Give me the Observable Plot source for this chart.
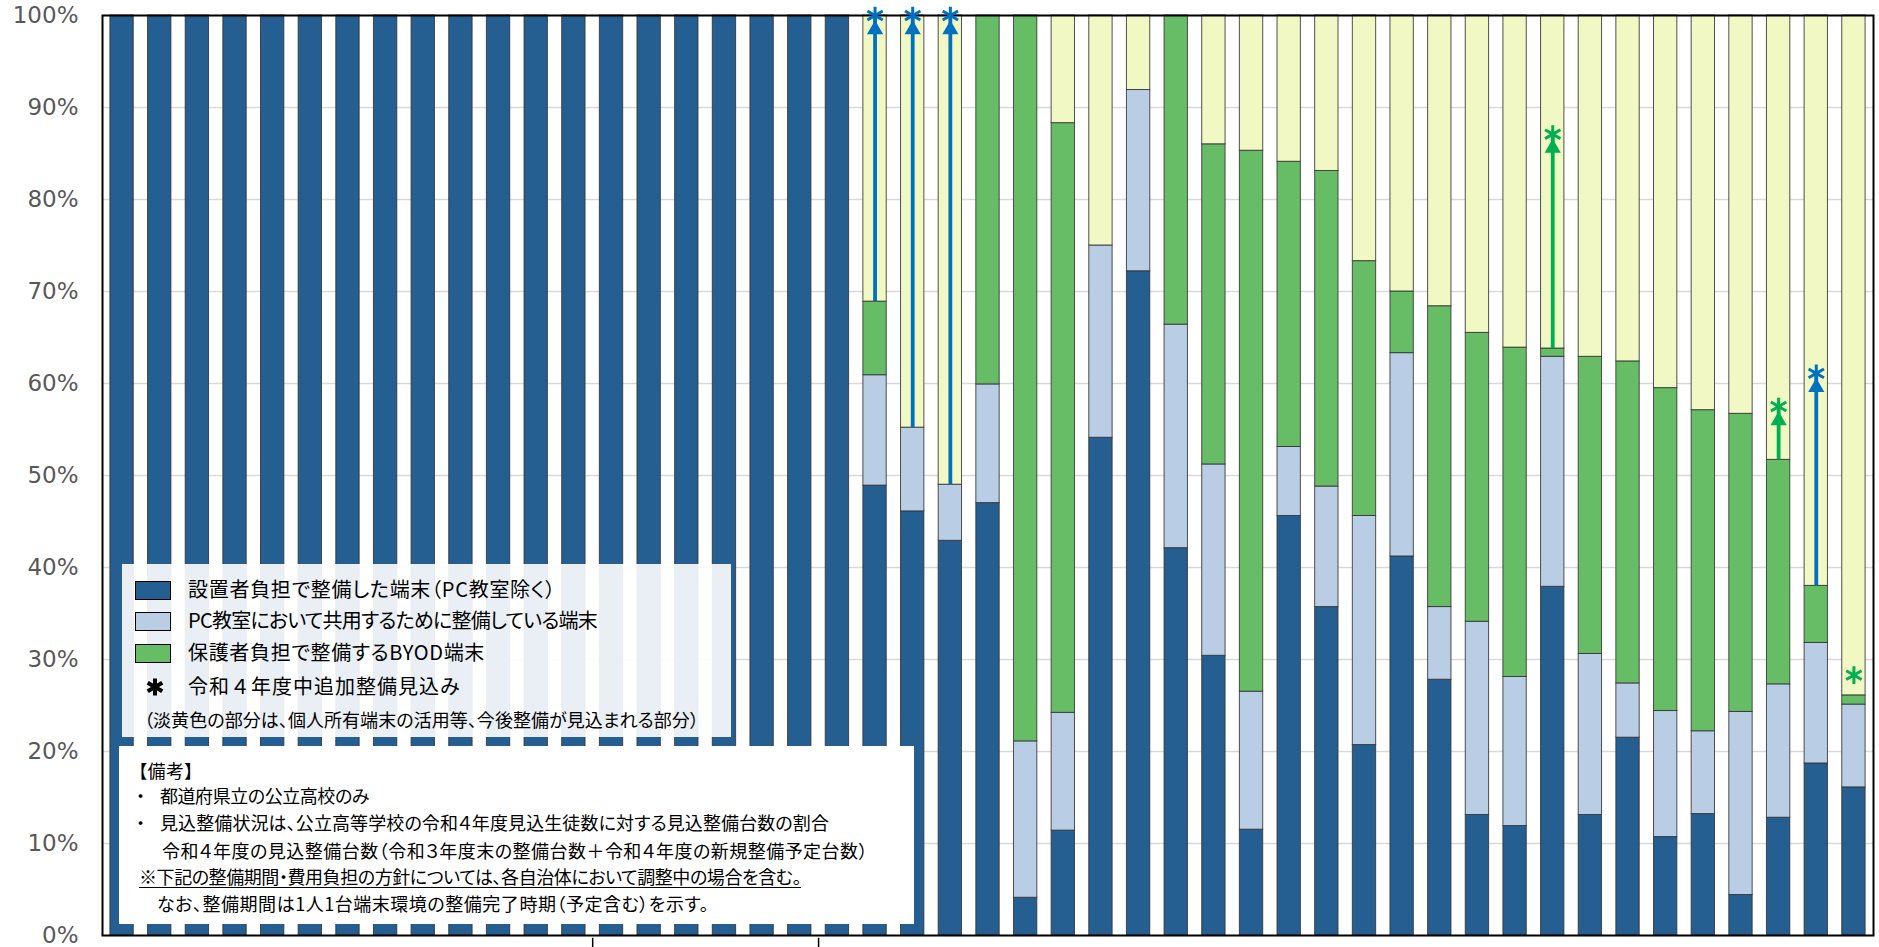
<!DOCTYPE html>
<html>
<head>
<meta charset="utf-8">
<script src="https://cdn.jsdelivr.net/npm/d3@7"></script>
<script src="https://cdn.jsdelivr.net/npm/@observablehq/plot@0.6"></script>
<style>
  html, body { margin: 0; padding: 0; background: #fff; }
  #wrap { position: relative; width: 1879px; height: 947px; overflow: hidden; }
  #wrap svg { display: block; }
  .box { position: absolute; }
  .t { position: absolute; white-space: nowrap; font-family: "Noto Sans CJK JP", sans-serif;
       font-feature-settings: "palt"; color: #000; line-height: 1; }
  .sw { position: absolute; box-sizing: border-box; border: 1.5px solid #000; }
</style>
</head>
<body>
<div id="wrap"></div>
<script>
// ---- data (percent of expected enrolment, per prefecture) ----
const categories = ["01","02","03","04","05","06","07","08","09","10","11","12","13","14","15","16",
  "17","18","19","20","21","22","23","24","25","26","27","28","29","30","31","32","33","34","35","36",
  "37","38","39","40","41","42","43","44","45","46","47"];

// 設置者負担で整備した端末（PC教室除く）
const founderDevices = [100,100,100,100,100,100,100,100,100,100,100,100,100,100,100,100,100,100,100,100,
  48.9,46.1,42.9,47.0,4.1,11.4,54.1,72.2,42.1,30.4,11.5,45.6,35.7,20.7,41.2,27.8,13.1,11.9,37.9,13.1,
  21.5,10.7,13.2,4.4,12.8,18.7,16.1];
// PC教室において共用するために整備している端末
const pcRoomDevices = [0,0,0,0,0,0,0,0,0,0,0,0,0,0,0,0,0,0,0,0,
  12.0,9.1,6.1,12.9,17.0,12.8,20.9,19.7,24.3,20.8,15.0,7.5,13.1,24.9,22.1,7.9,21.0,16.2,25.0,17.5,
  5.9,13.7,9.0,19.9,14.5,13.1,9.0];
// 保護者負担で整備するBYOD端末
const byodDevices = [0,0,0,0,0,0,0,0,0,0,0,0,0,0,0,0,0,0,0,0,
  8.0,0,0,40.1,78.9,64.1,0,0,33.6,34.8,58.8,31.0,34.3,27.7,6.7,32.7,31.4,35.8,0.9,32.3,
  35.0,35.1,34.9,32.4,24.4,6.2,1.0];

const seriesNames = ["設置者負担で整備した端末（PC教室除く）", "PC教室において共用するために整備している端末",
  "保護者負担で整備するBYOD端末", "今後整備が見込まれる部分"];
const seriesColors = ["#255E91", "#B9CDE5", "#66BD66", "#F1F8C4"];

// 令和４年度中追加整備見込み（arrows / asterisks）
const extraBars  = ["21","22","23","39","45","46","47"];
const extraFrom  = [68.9, 55.2, 49.0, 63.8, 51.7, 38.0, null];
const extraTo    = [100, 100, 100, 87.1, 57.5, 61.1, 28.3];
const extraType  = ["school","school","school","byod","byod","school","byod"];

const yTicks = [0,10,20,30,40,50,60,70,80,90,100];
const groupBreaks = ["14","20"];

// ---- build tables ----
const rows = [];
categories.forEach((c, i) => {
  const vals = [founderDevices[i], pcRoomDevices[i], byodDevices[i]];
  const rest = 100 - vals[0] - vals[1] - vals[2];
  [...vals, rest].forEach((v, k) => { if (v > 0.05) rows.push({cat: c, series: seriesNames[k], value: v}); });
});
const extras = extraBars.map((c, i) => ({cat: c, from: extraFrom[i], to: extraTo[i], type: extraType[i]}));
const arrows = extras.filter(d => d.from != null);
const BLUE = "#0070C0", GREEN = "#00B050";

const W = 1879, H = 947, mL = 102, mR = 6, mT = 15, mB = 12;
const pIn = 0.38, pOut = 0.21;
const step = (W - mL - mR) / (categories.length - pIn + 2 * pOut);

const chart = Plot.plot({
  width: W, height: H,
  marginLeft: mL, marginRight: mR, marginTop: mT, marginBottom: mB,
  style: {fontFamily: "DejaVu Sans", fontSize: "23px", color: "#595959", background: "#fff", overflow: "visible"},
  x: {domain: categories, paddingInner: pIn, paddingOuter: pOut, axis: null},
  y: {domain: [0, 100], ticks: yTicks, tickFormat: d => d + "%", tickSize: 0, tickPadding: 24, label: null},
  color: {domain: seriesNames, range: seriesColors},
  marks: [
    Plot.ruleY(yTicks, {stroke: "#D9D9D9", strokeWidth: 1.6}),
    Plot.barY(rows, {x: "cat", y: "value", fill: "series", stroke: "#333", strokeWidth: 1, strokeOpacity: 0.85}),
    Plot.frame({stroke: "#000", strokeWidth: 2}),
    Plot.ruleX(arrows.filter(d => d.type === "school"), {x: "cat", y1: "from", y2: "to", stroke: BLUE, strokeWidth: 3.8}),
    Plot.ruleX(arrows.filter(d => d.type === "byod"), {x: "cat", y1: "from", y2: "to", stroke: GREEN, strokeWidth: 3.8}),
    Plot.dot(arrows.filter(d => d.type === "school"), {x: "cat", y: "to", symbol: "triangle", r: 6, fill: BLUE, dy: 14}),
    Plot.dot(arrows.filter(d => d.type === "byod"), {x: "cat", y: "to", symbol: "triangle", r: 6, fill: GREEN, dy: 14}),
    Plot.dot(extras.filter(d => d.type === "school"), {x: "cat", y: "to", symbol: "asterisk", r: 8.4, stroke: BLUE, strokeWidth: 3}),
    Plot.dot(extras.filter(d => d.type === "byod"), {x: "cat", y: "to", symbol: "asterisk", r: 8.4, stroke: GREEN, strokeWidth: 3}),
    Plot.ruleX(groupBreaks, {x: d => d, y1: -0.3, y2: -1.4, dx: -step / 2, stroke: "#000", strokeWidth: 1.5})
  ]
});
const wrap = document.getElementById("wrap");
wrap.appendChild(chart);

// ---- legend & notes overlay ----
function box(x, y, w, h, bg) {
  const d = document.createElement("div");
  d.className = "box";
  Object.assign(d.style, {left: x + "px", top: y + "px", width: w + "px", height: h + "px", background: bg});
  wrap.appendChild(d);
}
// text placed by left edge, vertical centre, size; stretched to end at xEnd
function text(str, x, cy, size, xEnd, extra) {
  const s = document.createElement("div");
  s.className = "t";
  s.textContent = str;
  Object.assign(s.style, {left: x + "px", top: (cy - 0.556 * size) + "px", fontSize: size + "px"}, extra || {});
  wrap.appendChild(s);
  if (xEnd) {
    const w = s.getBoundingClientRect().width;
    const n = [...str].length;
    s.style.letterSpacing = ((xEnd - x - w) / n) + "px";
  }
  return s;
}
function swatch(x, cy, color) {
  const d = document.createElement("div");
  d.className = "sw";
  Object.assign(d.style, {left: x + "px", top: (cy - 9.5) + "px", width: "36px", height: "19px", background: color});
  wrap.appendChild(d);
}

// legend
box(122, 564, 609, 173, "rgba(255,255,255,0.9)");
const legendRows = [590.5, 621.5, 653];
const legendEnds = [556, 597, 485];
for (let k = 0; k < 3; k++) {
  swatch(135, legendRows[k], seriesColors[k]);
  text(seriesNames[k], 188, legendRows[k], 20, legendEnds[k]);
}
// asterisk symbol in legend
const ns = "http://www.w3.org/2000/svg";
const ast = document.createElementNS(ns, "svg");
ast.setAttribute("width", 26); ast.setAttribute("height", 26);
Object.assign(ast.style, {position: "absolute", left: (155 - 13) + "px", top: (687 - 13) + "px"});
const ap = document.createElementNS(ns, "path");
ap.setAttribute("d", d3.symbol(d3.symbolAsterisk, Math.PI * 8 * 8)());
ap.setAttribute("transform", "translate(13,13)");
ap.setAttribute("stroke", "#000"); ap.setAttribute("stroke-width", 4); ap.setAttribute("fill", "none");
ast.appendChild(ap);
wrap.appendChild(ast);
text("令和４年度中追加整備見込み", 188, 687.5, 20, 461, {fontFeatureSettings: "normal"});
text("（淡黄色の部分は、個人所有端末の活用等、今後整備が見込まれる部分）", 144, 720, 18, 699);

// notes
box(119, 746, 795, 178, "#fff");
const noteSize = 18;
text("【備考】", 138, 771.5, noteSize, 194);
text("・", 136, 796.5, noteSize);
text("都道府県立の公立高校のみ", 160, 796.5, noteSize, 369);
text("・", 136, 823.5, noteSize);
text("見込整備状況は、公立高等学校の令和４年度見込生徒数に対する見込整備台数の割合", 160, 823.5, noteSize, 829);
text("令和４年度の見込整備台数（令和３年度末の整備台数＋令和４年度の新規整備予定台数）", 162, 851, noteSize, 868);
text("※下記の整備期間・費用負担の方針については、各自治体において調整中の場合を含む。", 139, 877.5, noteSize, 801,
  {textDecoration: "underline", textUnderlineOffset: "3px"});
text("なお、整備期間は1人1台端末環境の整備完了時期（予定含む）を示す。", 157, 904, noteSize, 709);
</script>
</body>
</html>
